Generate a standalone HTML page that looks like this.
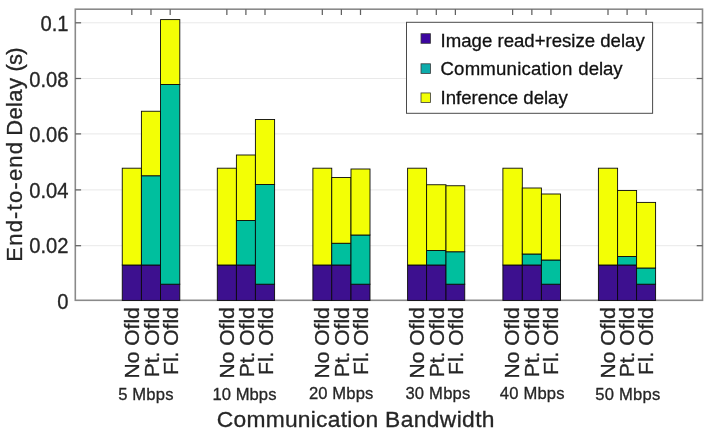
<!DOCTYPE html>
<html><head><meta charset="utf-8"><title>End-to-end Delay chart</title>
<style>html,body{margin:0;padding:0;background:#fff;}svg{display:block;filter:blur(0.4px);}text{stroke:#262626;stroke-width:0.3px;}text.lg{fill:#111;stroke:#111;}</style></head>
<body>
<svg width="712" height="434" viewBox="0 0 712 434" font-family="'Liberation Sans', Arial, Helvetica, sans-serif" fill="#262626">
<rect width="712" height="434" fill="#ffffff"/>
<line x1="75.3" x2="702.5" y1="245.70" y2="245.70" stroke="#e9e9e9" stroke-width="1"/>
<line x1="75.3" x2="702.5" y1="189.90" y2="189.90" stroke="#e9e9e9" stroke-width="1"/>
<line x1="75.3" x2="702.5" y1="133.90" y2="133.90" stroke="#e9e9e9" stroke-width="1"/>
<line x1="75.3" x2="702.5" y1="78.50" y2="78.50" stroke="#e9e9e9" stroke-width="1"/>
<line x1="75.3" x2="702.5" y1="22.80" y2="22.80" stroke="#e9e9e9" stroke-width="1"/>
<rect x="75.3" y="9.2" width="627.20" height="291.10" fill="none" stroke="#8a8a8a" stroke-width="1.6"/>
<line x1="75.3" x2="81.1" y1="245.70" y2="245.70" stroke="#606060" stroke-width="1.25"/>
<line x1="696.7" x2="702.5" y1="245.70" y2="245.70" stroke="#606060" stroke-width="1.25"/>
<line x1="75.3" x2="81.1" y1="189.90" y2="189.90" stroke="#606060" stroke-width="1.25"/>
<line x1="696.7" x2="702.5" y1="189.90" y2="189.90" stroke="#606060" stroke-width="1.25"/>
<line x1="75.3" x2="81.1" y1="133.90" y2="133.90" stroke="#606060" stroke-width="1.25"/>
<line x1="696.7" x2="702.5" y1="133.90" y2="133.90" stroke="#606060" stroke-width="1.25"/>
<line x1="75.3" x2="81.1" y1="78.50" y2="78.50" stroke="#606060" stroke-width="1.25"/>
<line x1="696.7" x2="702.5" y1="78.50" y2="78.50" stroke="#606060" stroke-width="1.25"/>
<line x1="75.3" x2="81.1" y1="22.80" y2="22.80" stroke="#606060" stroke-width="1.25"/>
<line x1="696.7" x2="702.5" y1="22.80" y2="22.80" stroke="#606060" stroke-width="1.25"/>
<line x1="131.82" x2="131.82" y1="9.2" y2="15.0" stroke="#606060" stroke-width="1.25"/>
<line x1="150.98" x2="150.98" y1="9.2" y2="15.0" stroke="#606060" stroke-width="1.25"/>
<line x1="170.18" x2="170.18" y1="9.2" y2="15.0" stroke="#606060" stroke-width="1.25"/>
<line x1="226.85" x2="226.85" y1="9.2" y2="15.0" stroke="#606060" stroke-width="1.25"/>
<line x1="245.90" x2="245.90" y1="9.2" y2="15.0" stroke="#606060" stroke-width="1.25"/>
<line x1="265.00" x2="265.00" y1="9.2" y2="15.0" stroke="#606060" stroke-width="1.25"/>
<line x1="322.32" x2="322.32" y1="9.2" y2="15.0" stroke="#606060" stroke-width="1.25"/>
<line x1="341.38" x2="341.38" y1="9.2" y2="15.0" stroke="#606060" stroke-width="1.25"/>
<line x1="360.50" x2="360.50" y1="9.2" y2="15.0" stroke="#606060" stroke-width="1.25"/>
<line x1="417.10" x2="417.10" y1="9.2" y2="15.0" stroke="#606060" stroke-width="1.25"/>
<line x1="436.30" x2="436.30" y1="9.2" y2="15.0" stroke="#606060" stroke-width="1.25"/>
<line x1="455.38" x2="455.38" y1="9.2" y2="15.0" stroke="#606060" stroke-width="1.25"/>
<line x1="512.60" x2="512.60" y1="9.2" y2="15.0" stroke="#606060" stroke-width="1.25"/>
<line x1="531.85" x2="531.85" y1="9.2" y2="15.0" stroke="#606060" stroke-width="1.25"/>
<line x1="550.95" x2="550.95" y1="9.2" y2="15.0" stroke="#606060" stroke-width="1.25"/>
<line x1="608.00" x2="608.00" y1="9.2" y2="15.0" stroke="#606060" stroke-width="1.25"/>
<line x1="627.10" x2="627.10" y1="9.2" y2="15.0" stroke="#606060" stroke-width="1.25"/>
<line x1="646.10" x2="646.10" y1="9.2" y2="15.0" stroke="#606060" stroke-width="1.25"/>
<rect x="122.25" y="265.00" width="19.15" height="35.40" fill="#3d108f" stroke="#0a0a0a" stroke-width="0.9"/>
<rect x="122.25" y="168.20" width="19.15" height="96.80" fill="#f3ff05" stroke="#0a0a0a" stroke-width="0.9"/>
<rect x="141.40" y="265.00" width="19.15" height="35.40" fill="#3d108f" stroke="#0a0a0a" stroke-width="0.9"/>
<rect x="141.40" y="175.75" width="19.15" height="89.25" fill="#00bf9e" stroke="#0a0a0a" stroke-width="0.9"/>
<rect x="141.40" y="111.25" width="19.15" height="64.50" fill="#f3ff05" stroke="#0a0a0a" stroke-width="0.9"/>
<rect x="160.55" y="284.20" width="19.25" height="16.20" fill="#3d108f" stroke="#0a0a0a" stroke-width="0.9"/>
<rect x="160.55" y="84.50" width="19.25" height="199.70" fill="#00bf9e" stroke="#0a0a0a" stroke-width="0.9"/>
<rect x="160.55" y="19.60" width="19.25" height="64.90" fill="#f3ff05" stroke="#0a0a0a" stroke-width="0.9"/>
<rect x="217.30" y="265.00" width="19.10" height="35.40" fill="#3d108f" stroke="#0a0a0a" stroke-width="0.9"/>
<rect x="217.30" y="168.20" width="19.10" height="96.80" fill="#f3ff05" stroke="#0a0a0a" stroke-width="0.9"/>
<rect x="236.40" y="265.00" width="19.00" height="35.40" fill="#3d108f" stroke="#0a0a0a" stroke-width="0.9"/>
<rect x="236.40" y="220.50" width="19.00" height="44.50" fill="#00bf9e" stroke="#0a0a0a" stroke-width="0.9"/>
<rect x="236.40" y="155.00" width="19.00" height="65.50" fill="#f3ff05" stroke="#0a0a0a" stroke-width="0.9"/>
<rect x="255.40" y="284.20" width="19.20" height="16.20" fill="#3d108f" stroke="#0a0a0a" stroke-width="0.9"/>
<rect x="255.40" y="184.50" width="19.20" height="99.70" fill="#00bf9e" stroke="#0a0a0a" stroke-width="0.9"/>
<rect x="255.40" y="119.50" width="19.20" height="65.00" fill="#f3ff05" stroke="#0a0a0a" stroke-width="0.9"/>
<rect x="312.90" y="265.00" width="18.85" height="35.40" fill="#3d108f" stroke="#0a0a0a" stroke-width="0.9"/>
<rect x="312.90" y="168.20" width="18.85" height="96.80" fill="#f3ff05" stroke="#0a0a0a" stroke-width="0.9"/>
<rect x="331.75" y="265.00" width="19.25" height="35.40" fill="#3d108f" stroke="#0a0a0a" stroke-width="0.9"/>
<rect x="331.75" y="243.25" width="19.25" height="21.75" fill="#00bf9e" stroke="#0a0a0a" stroke-width="0.9"/>
<rect x="331.75" y="177.50" width="19.25" height="65.75" fill="#f3ff05" stroke="#0a0a0a" stroke-width="0.9"/>
<rect x="351.00" y="284.20" width="19.00" height="16.20" fill="#3d108f" stroke="#0a0a0a" stroke-width="0.9"/>
<rect x="351.00" y="235.00" width="19.00" height="49.20" fill="#00bf9e" stroke="#0a0a0a" stroke-width="0.9"/>
<rect x="351.00" y="169.00" width="19.00" height="66.00" fill="#f3ff05" stroke="#0a0a0a" stroke-width="0.9"/>
<rect x="407.60" y="265.00" width="19.00" height="35.40" fill="#3d108f" stroke="#0a0a0a" stroke-width="0.9"/>
<rect x="407.60" y="168.20" width="19.00" height="96.80" fill="#f3ff05" stroke="#0a0a0a" stroke-width="0.9"/>
<rect x="426.60" y="265.00" width="19.40" height="35.40" fill="#3d108f" stroke="#0a0a0a" stroke-width="0.9"/>
<rect x="426.60" y="250.50" width="19.40" height="14.50" fill="#00bf9e" stroke="#0a0a0a" stroke-width="0.9"/>
<rect x="426.60" y="184.75" width="19.40" height="65.75" fill="#f3ff05" stroke="#0a0a0a" stroke-width="0.9"/>
<rect x="446.00" y="284.20" width="18.75" height="16.20" fill="#3d108f" stroke="#0a0a0a" stroke-width="0.9"/>
<rect x="446.00" y="251.75" width="18.75" height="32.45" fill="#00bf9e" stroke="#0a0a0a" stroke-width="0.9"/>
<rect x="446.00" y="185.75" width="18.75" height="66.00" fill="#f3ff05" stroke="#0a0a0a" stroke-width="0.9"/>
<rect x="502.90" y="265.00" width="19.40" height="35.40" fill="#3d108f" stroke="#0a0a0a" stroke-width="0.9"/>
<rect x="502.90" y="168.20" width="19.40" height="96.80" fill="#f3ff05" stroke="#0a0a0a" stroke-width="0.9"/>
<rect x="522.30" y="265.00" width="19.10" height="35.40" fill="#3d108f" stroke="#0a0a0a" stroke-width="0.9"/>
<rect x="522.30" y="254.00" width="19.10" height="11.00" fill="#00bf9e" stroke="#0a0a0a" stroke-width="0.9"/>
<rect x="522.30" y="188.00" width="19.10" height="66.00" fill="#f3ff05" stroke="#0a0a0a" stroke-width="0.9"/>
<rect x="541.40" y="284.20" width="19.10" height="16.20" fill="#3d108f" stroke="#0a0a0a" stroke-width="0.9"/>
<rect x="541.40" y="260.00" width="19.10" height="24.20" fill="#00bf9e" stroke="#0a0a0a" stroke-width="0.9"/>
<rect x="541.40" y="194.00" width="19.10" height="66.00" fill="#f3ff05" stroke="#0a0a0a" stroke-width="0.9"/>
<rect x="598.40" y="265.00" width="19.20" height="35.40" fill="#3d108f" stroke="#0a0a0a" stroke-width="0.9"/>
<rect x="598.40" y="168.20" width="19.20" height="96.80" fill="#f3ff05" stroke="#0a0a0a" stroke-width="0.9"/>
<rect x="617.60" y="265.00" width="19.00" height="35.40" fill="#3d108f" stroke="#0a0a0a" stroke-width="0.9"/>
<rect x="617.60" y="256.50" width="19.00" height="8.50" fill="#00bf9e" stroke="#0a0a0a" stroke-width="0.9"/>
<rect x="617.60" y="190.50" width="19.00" height="66.00" fill="#f3ff05" stroke="#0a0a0a" stroke-width="0.9"/>
<rect x="636.60" y="284.20" width="19.00" height="16.20" fill="#3d108f" stroke="#0a0a0a" stroke-width="0.9"/>
<rect x="636.60" y="268.00" width="19.00" height="16.20" fill="#00bf9e" stroke="#0a0a0a" stroke-width="0.9"/>
<rect x="636.60" y="202.40" width="19.00" height="65.60" fill="#f3ff05" stroke="#0a0a0a" stroke-width="0.9"/>
<text transform="translate(68.55,308.50) scale(1,1.075)" font-size="20.2" text-anchor="end">0</text>
<text transform="translate(68.55,253.00) scale(1,1.075)" font-size="20.2" text-anchor="end">0.02</text>
<text transform="translate(68.55,197.50) scale(1,1.075)" font-size="20.2" text-anchor="end">0.04</text>
<text transform="translate(68.55,142.00) scale(1,1.075)" font-size="20.2" text-anchor="end">0.06</text>
<text transform="translate(68.55,86.50) scale(1,1.075)" font-size="20.2" text-anchor="end">0.08</text>
<text transform="translate(68.55,31.00) scale(1,1.075)" font-size="20.2" text-anchor="end">0.1</text>
<text transform="translate(139.00,307.2) rotate(-90)" font-size="21" text-anchor="end">No Ofld</text>
<text transform="translate(158.80,307.2) rotate(-90)" font-size="21" text-anchor="end">Pt. Ofld</text>
<text transform="translate(177.50,307.2) rotate(-90)" font-size="21" text-anchor="end">Fl. Ofld</text>
<text transform="translate(234.10,307.2) rotate(-90)" font-size="21" text-anchor="end">No Ofld</text>
<text transform="translate(253.90,307.2) rotate(-90)" font-size="21" text-anchor="end">Pt. Ofld</text>
<text transform="translate(272.60,307.2) rotate(-90)" font-size="21" text-anchor="end">Fl. Ofld</text>
<text transform="translate(329.20,307.2) rotate(-90)" font-size="21" text-anchor="end">No Ofld</text>
<text transform="translate(349.00,307.2) rotate(-90)" font-size="21" text-anchor="end">Pt. Ofld</text>
<text transform="translate(367.70,307.2) rotate(-90)" font-size="21" text-anchor="end">Fl. Ofld</text>
<text transform="translate(424.30,307.2) rotate(-90)" font-size="21" text-anchor="end">No Ofld</text>
<text transform="translate(444.10,307.2) rotate(-90)" font-size="21" text-anchor="end">Pt. Ofld</text>
<text transform="translate(462.80,307.2) rotate(-90)" font-size="21" text-anchor="end">Fl. Ofld</text>
<text transform="translate(519.40,307.2) rotate(-90)" font-size="21" text-anchor="end">No Ofld</text>
<text transform="translate(539.20,307.2) rotate(-90)" font-size="21" text-anchor="end">Pt. Ofld</text>
<text transform="translate(557.90,307.2) rotate(-90)" font-size="21" text-anchor="end">Fl. Ofld</text>
<text transform="translate(614.50,307.2) rotate(-90)" font-size="21" text-anchor="end">No Ofld</text>
<text transform="translate(634.30,307.2) rotate(-90)" font-size="21" text-anchor="end">Pt. Ofld</text>
<text transform="translate(653.00,307.2) rotate(-90)" font-size="21" text-anchor="end">Fl. Ofld</text>
<text y="399.8" font-size="16.6"><tspan x="118.15" textLength="55.30" lengthAdjust="spacing">5 Mbps</tspan></text>
<text y="399.7" font-size="16.6"><tspan x="212.40" textLength="64.03" lengthAdjust="spacing">10 Mbps</tspan></text>
<text y="398.7" font-size="16.6"><tspan x="308.92" textLength="64.38" lengthAdjust="spacing">20 Mbps</tspan></text>
<text y="399.3" font-size="16.6"><tspan x="405.44" textLength="64.84" lengthAdjust="spacing">30 Mbps</tspan></text>
<text y="399.3" font-size="16.6"><tspan x="499.82" textLength="64.65" lengthAdjust="spacing">40 Mbps</tspan></text>
<text y="399.5" font-size="16.6"><tspan x="595.30" textLength="64.98" lengthAdjust="spacing">50 Mbps</tspan></text>
<text y="426.5" font-size="22.8"><tspan x="216.86" textLength="161.30" lengthAdjust="spacing">Communication</tspan> <tspan x="385.12" textLength="109.40" lengthAdjust="spacing">Bandwidth</tspan></text>
<text transform="translate(22.1,0) rotate(-90)" font-size="22"><tspan x="-261.70" textLength="119.77" lengthAdjust="spacing">End-to-end</tspan> <tspan x="-135.70" textLength="57.65" lengthAdjust="spacing">Delay</tspan> <tspan x="-71.44" textLength="24.07" lengthAdjust="spacing">(s)</tspan></text>
<rect x="406.5" y="22.3" width="246.1" height="91" fill="#fff" stroke="#4a4a4a" stroke-width="1"/>
<rect x="421" y="33.7" width="9.5" height="9.6" fill="#3c06a0" stroke="#3a3a3a" stroke-width="0.8"/>
<rect x="421" y="63.8" width="9.5" height="9.6" fill="#0cabab" stroke="#3a3a3a" stroke-width="0.8"/>
<rect x="421" y="92.95" width="9.5" height="9.6" fill="#f3ff05" stroke="#3a3a3a" stroke-width="0.8"/>
<text x="440.6" y="46.7" font-size="18.6" class="lg">Image read+resize delay</text>
<text y="75.2" font-size="18.6" class="lg"><tspan x="440.44" textLength="131.79" lengthAdjust="spacing">Communication</tspan> <tspan x="578.33" textLength="44.34" lengthAdjust="spacing">delay</tspan></text>
<text x="440.6" y="103.6" font-size="18.6" class="lg">Inference delay</text>
</svg>
</body></html>
